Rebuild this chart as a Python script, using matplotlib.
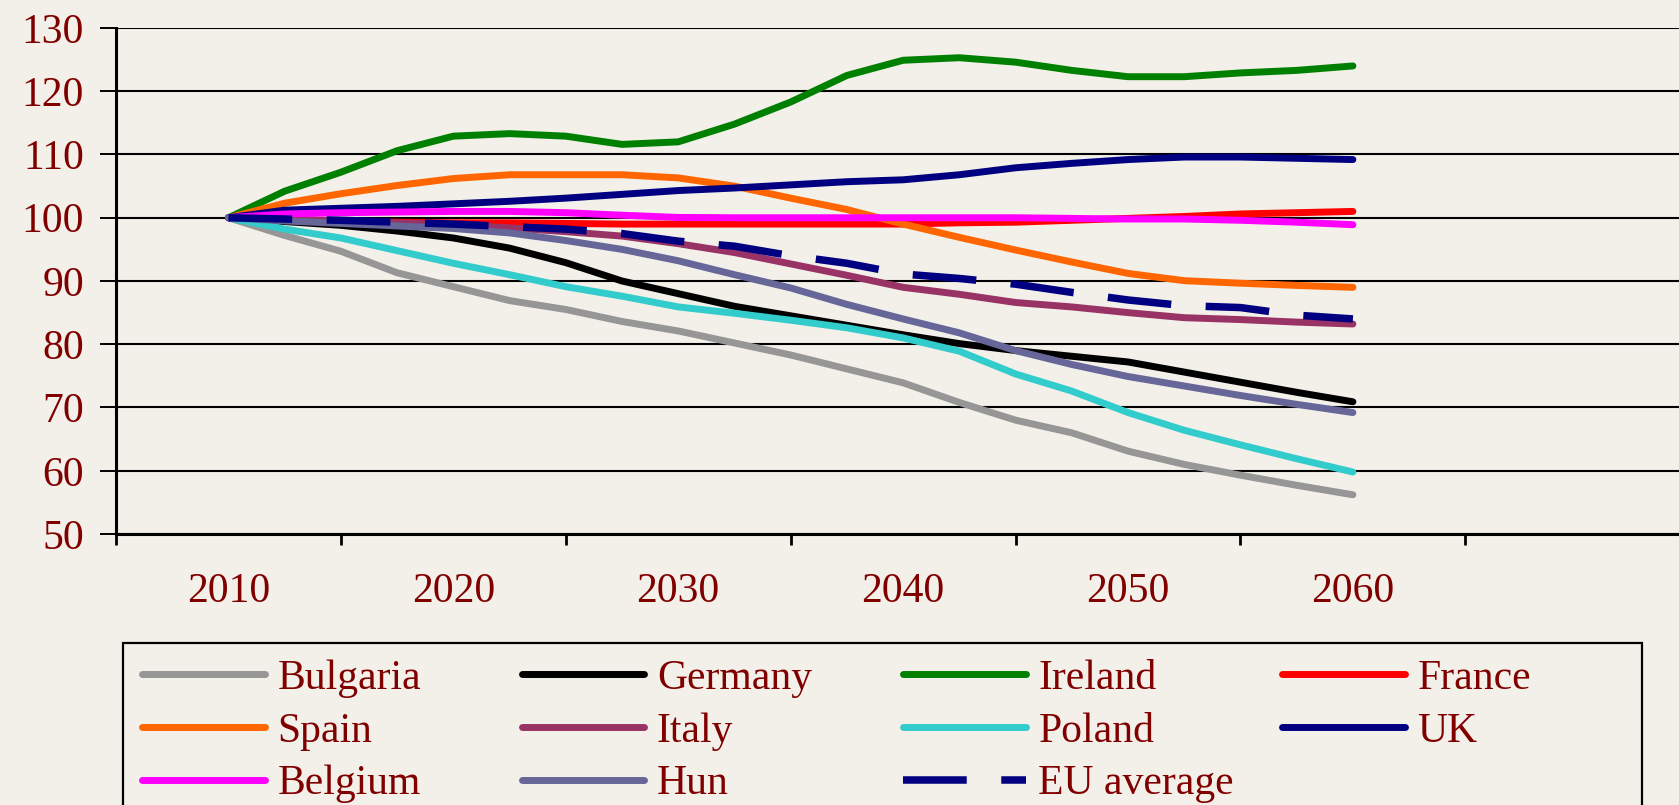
import matplotlib
matplotlib.use('Agg')
import matplotlib.pyplot as plt
from matplotlib.patches import Rectangle

# index values (2010 = 100)
years = [2010, 2012.5, 2015, 2017.5, 2020, 2022.5, 2025, 2027.5, 2030, 2032.5, 2035,
         2037.5, 2040, 2042.5, 2045, 2047.5, 2050, 2052.5, 2055, 2057.5, 2060]
label_years = [2010, 2020, 2030, 2040, 2050, 2060]

bulgaria = [100, 97.2, 94.7, 91.3, 89.1, 86.9, 85.5, 83.6, 82.1, 80.2, 78.3,
            76.1, 73.9, 70.8, 68.0, 66.0, 63.1, 61.0, 59.3, 57.7, 56.2]
germany = [100, 99.4, 98.8, 97.9, 96.8, 95.2, 92.9, 90.0, 88.0, 86.0, 84.5,
           83.0, 81.5, 80.1, 79.0, 78.1, 77.2, 75.6, 74.0, 72.4, 70.9]
ireland = [100, 104.2, 107.2, 110.6, 112.9, 113.3, 112.9, 111.6, 112.0, 114.8, 118.3,
           122.5, 124.9, 125.3, 124.6, 123.3, 122.3, 122.3, 122.9, 123.3, 124.0]
france = [100, 99.6, 99.4, 99.3, 99.2, 99.2, 99.1, 99.0, 99.0, 99.0, 99.0,
          99.0, 99.0, 99.2, 99.3, 99.6, 99.9, 100.2, 100.6, 100.8, 101.0]
spain = [100, 102.3, 103.8, 105.1, 106.2, 106.8, 106.8, 106.8, 106.3, 105.0, 103.1,
         101.3, 99.0, 96.9, 94.9, 93.0, 91.2, 90.05, 89.65, 89.3, 89.0]
italy = [100, 99.8, 99.5, 99.2, 98.9, 98.4, 97.8, 97.1, 95.9, 94.5, 92.7,
         90.9, 89.0, 87.9, 86.6, 85.9, 85.0, 84.2, 83.9, 83.5, 83.2]
poland = [100, 98.2, 96.8, 94.8, 92.8, 91.0, 89.1, 87.6, 85.9, 84.9, 83.8,
          82.6, 81.0, 78.9, 75.3, 72.6, 69.2, 66.4, 64.1, 61.9, 59.8]
uk = [100, 101.2, 101.5, 101.8, 102.2, 102.6, 103.1, 103.7, 104.3, 104.7, 105.2,
      105.7, 106.0, 106.8, 107.9, 108.6, 109.2, 109.6, 109.6, 109.4, 109.2]
belgium = [100, 100.6, 100.8, 100.9, 101.0, 101.0, 100.8, 100.4, 100.05, 100.0, 100.0,
           100.0, 100.0, 100.0, 100.0, 99.9, 99.8, 99.8, 99.6, 99.3, 98.9]
hun = [100, 99.5, 99.1, 98.7, 98.3, 97.6, 96.4, 95.0, 93.2, 91.0, 88.9,
       86.3, 84.0, 81.8, 79.0, 76.8, 74.9, 73.4, 71.9, 70.5, 69.2]
eu_average = [100, 99.8, 99.6, 99.3, 99.0, 98.6, 98.2, 97.5, 96.3, 95.5, 94.0,
              92.8, 91.1, 90.4, 89.5, 88.2, 87.0, 86.1, 85.8, 84.6, 84.0]

names = ['Bulgaria', 'Germany', 'Ireland', 'France', 'Spain', 'Italy',
         'Poland', 'UK', 'Belgium', 'Hun', 'EU average']
values = [bulgaria, germany, ireland, france, spain, italy,
          poland, uk, belgium, hun, eu_average]
colors = ['#969696', '#000000', '#008000', '#ff0000', '#ff6600', '#993366',
          '#33cccc', '#000080', '#ff00ff', '#666699', '#000080']

bg = '#f3f0ea'
text_color = '#800000'
W, H = 1679, 805

plt.rcParams['font.family'] = ['Liberation Serif', 'DejaVu Serif']
fs = 30

fig = plt.figure(figsize=(W / 100, H / 100), dpi=100, facecolor=bg)
ax = fig.add_axes([116 / W, 1 - 534 / H, 1 - 116 / W, (534 - 28) / H])
ax.set_facecolor(bg)

for name, vals, color in zip(names, values, colors):
    if name == 'EU average':
        ax.plot(years, vals, color=color, lw=5.4, dashes=(8.5, 4.6),
                dash_capstyle='butt', label=name)
    else:
        ax.plot(years, vals, color=color, lw=5.0, solid_capstyle='round', label=name)

ax.set_xlim(2005, 2074.5)
ax.set_ylim(50, 130)
ax.set_yticks(range(50, 131, 10))
ax.set_xticks(range(2005, 2075, 10))
ax.set_xticklabels([])
ax.set_xticks(label_years, minor=True)
ax.set_xticklabels([str(y) for y in label_years], minor=True)

ax.tick_params(axis='x', which='major', length=8, width=2, direction='out', color='black')
ax.tick_params(axis='x', which='minor', length=0, pad=28, labelsize=fs, labelcolor=text_color)
ax.tick_params(axis='y', length=11.5, width=1.4, pad=11.5, labelsize=fs, labelcolor=text_color)
ax.yaxis.grid(True, color='black', lw=1.5)
ax.set_axisbelow(True)
ax.spines['top'].set_visible(False)
ax.spines['right'].set_visible(False)
ax.spines['left'].set_linewidth(2.2)
ax.spines['bottom'].set_linewidth(2.2)

# legend: 4 columns filled row by row, each column placed on its own
handles, labels = ax.get_legend_handles_labels()
col_x = [142, 521.5, 903, 1282]
top = 659.5
for c in range(4):
    hs = handles[c::4]
    ls = labels[c::4]
    fig.legend(hs, ls, loc='upper left', bbox_to_anchor=(col_x[c] / W, 1 - top / H),
               frameon=False, borderpad=0, borderaxespad=0, handlelength=2.95,
               handletextpad=0.3, labelspacing=0.34, prop={'size': fs},
               labelcolor=text_color)

frame = Rectangle((123 / W, -0.05), (1641.5 - 123) / W, 0.05 + 1 - 642.5 / H,
                  transform=fig.transFigure, fill=False, edgecolor='black', lw=1.6)
fig.add_artist(frame)

fig.savefig('out.png', dpi=100, facecolor=bg)
